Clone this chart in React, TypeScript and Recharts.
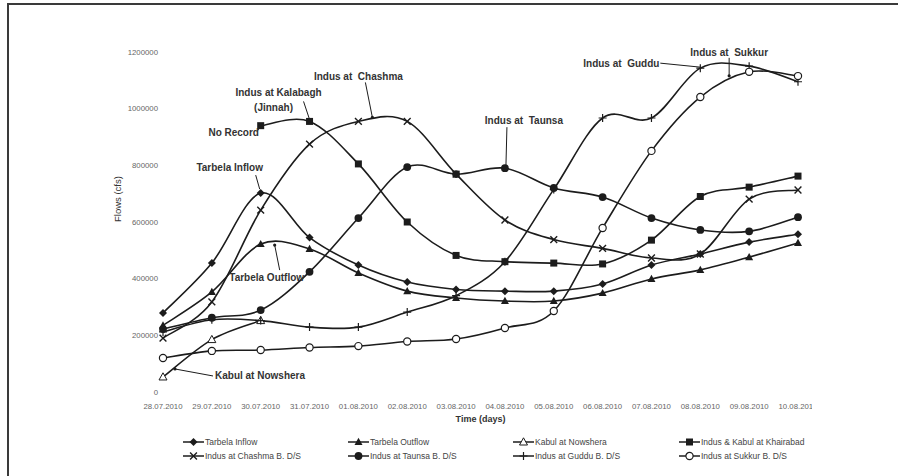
import React from 'react';
import { LineChart, Line, XAxis, YAxis, ReferenceDot } from 'recharts';

const INK = '#1c1c1c';
const TICK = '#666';
const FONT = '"Liberation Sans", Arial, sans-serif';

const days = [
  '28.07.2010', '29.07.2010', '30.07.2010', '31.07.2010', '01.08.2010', '02.08.2010', '03.08.2010',
  '04.08.2010', '05.08.2010', '06.08.2010', '07.08.2010', '08.08.2010', '09.08.2010', '10.08.2010',
];
const yTicks = [0, 200000, 400000, 600000, 800000, 1000000, 1200000];

// flows in cfs, one value per day
const tarbelaInflow = [279000, 455000, 702000, 545000, 448000, 388000, 362000, 356000, 356000, 381000, 448000, 487000, 529000, 557000];
const tarbelaOutflow = [235000, 353000, 522000, 505000, 420000, 356000, 332000, 321000, 321000, 349000, 399000, 431000, 476000, 526000];
const kabulNowshera = [53000, 185000, 252000, null, null, null, null, null, null, null, null, null, null, null];
const khairabad = [null, null, 940000, 955000, 805000, 600000, 482000, 460000, 455000, 452000, 536000, 690000, 723000, 762000];
const chashma = [190000, 318000, 642000, 875000, 955000, 955000, 769000, 607000, 538000, 507000, 473000, 487000, 681000, 713000];
const taunsa = [222000, 262000, 289000, 424000, 614000, 794000, 769000, 790000, 720000, 688000, 614000, 572000, 567000, 617000];
const guddu = [212000, 255000, 252000, 229000, 229000, 282000, 340000, 460000, 715000, 967000, 967000, 1143000, 1150000, 1095000];
const sukkur = [120000, 145000, 148000, 157000, 162000, 178000, 187000, 226000, 286000, 579000, 851000, 1041000, 1130000, 1115000];

type MarkerKind = 'diamond' | 'triangle' | 'openTriangle' | 'square' | 'cross' | 'circle' | 'plus' | 'openCircle';

const series: { key: string; name: string; values: (number | null)[]; marker: MarkerKind }[] = [
  { key: 'inflow', name: 'Tarbela Inflow', values: tarbelaInflow, marker: 'diamond' },
  { key: 'outflow', name: 'Tarbela Outflow', values: tarbelaOutflow, marker: 'triangle' },
  { key: 'kabul', name: 'Kabul at Nowshera', values: kabulNowshera, marker: 'openTriangle' },
  { key: 'khairabad', name: 'Indus & Kabul at Khairabad', values: khairabad, marker: 'square' },
  { key: 'chashma', name: 'Indus at Chashma B. D/S', values: chashma, marker: 'cross' },
  { key: 'taunsa', name: 'Indus at Taunsa B. D/S', values: taunsa, marker: 'circle' },
  { key: 'guddu', name: 'Indus at Guddu B. D/S', values: guddu, marker: 'plus' },
  { key: 'sukkur', name: 'Indus at Sukkur B. D/S', values: sukkur, marker: 'openCircle' },
];

const rows = days.map((day, i) => {
  const row: Record<string, string | number | null> = { day };
  series.forEach((s) => (row[s.key] = s.values[i]));
  return row;
});

// smooth line through the points (Catmull-Rom), like the spreadsheet "smoothed line"
function smoothCurve(context: any) {
  let pts: [number, number][] = [];
  return {
    areaStart() {},
    areaEnd() {},
    lineStart() {
      pts = [];
    },
    point(x: number, y: number) {
      pts.push([+x, +y]);
    },
    lineEnd() {
      if (!pts.length) return;
      context.moveTo(pts[0][0], pts[0][1]);
      for (let i = 0; i < pts.length - 1; i++) {
        const p0 = pts[i - 1] || pts[i];
        const p1 = pts[i];
        const p2 = pts[i + 1];
        const p3 = pts[i + 2] || p2;
        context.bezierCurveTo(
          p1[0] + (p2[0] - p0[0]) / 6,
          p1[1] + (p2[1] - p0[1]) / 6,
          p2[0] - (p3[0] - p1[0]) / 6,
          p2[1] - (p3[1] - p1[1]) / 6,
          p2[0],
          p2[1],
        );
      }
    },
  };
}

function Marker({ kind, cx, cy }: { kind: MarkerKind; cx: number; cy: number }) {
  switch (kind) {
    case 'diamond':
      return <path d={`M${cx},${cy - 4}L${cx + 4},${cy}L${cx},${cy + 4}L${cx - 4},${cy}Z`} fill={INK} />;
    case 'triangle':
      return <path d={`M${cx},${cy - 4.2}L${cx + 4},${cy + 3}L${cx - 4},${cy + 3}Z`} fill={INK} />;
    case 'openTriangle':
      return <path d={`M${cx},${cy - 4.2}L${cx + 4},${cy + 3}L${cx - 4},${cy + 3}Z`} fill="#fff" stroke={INK} strokeWidth={1} />;
    case 'square':
      return <rect x={cx - 3.5} y={cy - 3.5} width={7} height={7} fill={INK} />;
    case 'cross':
      return (
        <path d={`M${cx - 3.4},${cy - 3.4}L${cx + 3.4},${cy + 3.4}M${cx - 3.4},${cy + 3.4}L${cx + 3.4},${cy - 3.4}`} stroke={INK} strokeWidth={1.4} />
      );
    case 'circle':
      return <circle cx={cx} cy={cy} r={3.9} fill={INK} />;
    case 'plus':
      return <path d={`M${cx - 4},${cy}L${cx + 4},${cy}M${cx},${cy - 4}L${cx},${cy + 4}`} stroke={INK} strokeWidth={1.2} />;
    case 'openCircle':
      return <circle cx={cx} cy={cy} r={3.6} fill="#fff" stroke={INK} strokeWidth={1.2} />;
  }
  return null;
}

// annotation text + leader line, offsets in px from the anchoring point
const callouts = [
  { values: tarbelaInflow, at: 2, lines: ['Tarbela Inflow'], text: [-31, -26], from: [-5, -18], to: [-1, -4], tip: false },
  { values: khairabad, at: 2, lines: ['No Record'], text: [-27, 7], from: [-3, 5], to: [0, 0], tip: false },
  { values: khairabad, at: 3, lines: ['Indus at Kalabagh', '(Jinnah)'], text: [-31, -29], from: [-6, -20], to: [0, -2], tip: false },
  { values: chashma, at: 4, lines: ['Indus at  Chashma'], text: [0, -45], from: [7, -39], to: [14, -4], tip: true },
  { values: taunsa, at: 7, lines: ['Indus at  Taunsa'], text: [19, -48], from: [2, -41], to: [1, -2], tip: false },
  { values: guddu, at: 11, lines: ['Indus at  Guddu'], text: [-79, -5], from: [-40, -5], to: [0, -1], tip: false },
  { values: sukkur, at: 12, lines: ['Indus at  Sukkur'], text: [-20, -19], from: [-20, -14], to: [-20, 4], tip: true },
  { values: tarbelaOutflow, at: 2, lines: ['Tarbela Outflow'], text: [6, 33], from: [19, 26], to: [14, 1], tip: true },
  { values: kabulNowshera, at: 0, lines: ['Kabul at Nowshera'], text: [97, -1], from: [50, -1], to: [12, -8], tip: true },
];

function Callout({ cx, cy, c }: { cx: number; cy: number; c: (typeof callouts)[number] }) {
  return (
    <g>
      <line
        x1={cx + c.from[0]}
        y1={cy + c.from[1]}
        x2={cx + c.to[0]}
        y2={cy + c.to[1]}
        stroke={INK}
        strokeWidth={1}
      />
      {c.tip && <circle cx={cx + c.to[0]} cy={cy + c.to[1]} r={1.6} fill={INK} />}
      {c.lines.map((t, i) => (
        <text
          key={t}
          x={cx + c.text[0] + (i > 0 ? -5 : 0)}
          y={cy + c.text[1] + i * 15}
          textAnchor="middle"
          dominantBaseline="central"
          fontFamily={FONT}
          fontSize={10}
          fontWeight={700}
          fill="#333"
          style={{ whiteSpace: 'pre' }}
        >
          {t}
        </text>
      ))}
    </g>
  );
}

function LegendItem({ name, marker, x, y }: { name: string; marker: MarkerKind; x: number; y: number }) {
  return (
    <div style={{ position: 'absolute', left: x, top: y - 6, height: 12, display: 'flex', alignItems: 'center' }}>
      <svg width={21} height={10}>
        <line x1={0} y1={5} x2={21} y2={5} stroke={INK} strokeWidth={1.5} />
        <Marker kind={marker} cx={10.5} cy={5} />
      </svg>
      <span style={{ marginLeft: 1, fontFamily: FONT, fontSize: 8.5, color: '#444', whiteSpace: 'nowrap' }}>{name}</span>
    </div>
  );
}

const legendCols = [183, 348, 513, 679];
const legendRows = [442, 456];

export default function App() {
  return (
    <div style={{ position: 'absolute', left: 0, top: 0, width: 898, height: 476, background: '#fff', overflow: 'hidden' }}>
      <div
        style={{
          position: 'absolute',
          left: 7,
          top: 3,
          width: 920,
          height: 500,
          borderTop: '2px solid #3a3a3a',
          borderLeft: '2px solid #3a3a3a',
        }}
      />
      <div style={{ position: 'absolute', left: 0, top: 0 }}>
        <LineChart width={812} height={430} data={rows} margin={{ top: 52, right: 14, bottom: 18, left: 103 }}>
          <XAxis
            dataKey="day"
            interval={0}
            height={20}
            axisLine={false}
            tickLine={false}
            tickSize={6}
            tickMargin={5}
            tick={{ fontSize: 7.8, fill: TICK, fontFamily: FONT }}
            label={{ value: 'Time (days)', position: 'bottom', offset: 4, fontSize: 9, fontWeight: 700, fill: '#333', fontFamily: FONT }}
          />
          <YAxis
            width={60}
            domain={[0, 1200000]}
            ticks={yTicks}
            interval={0}
            axisLine={false}
            tickLine={false}
            tickSize={0}
            tickMargin={5}
            tick={{ fontSize: 7.8, fill: TICK, fontFamily: FONT }}
            label={{ value: 'Flows (cfs)', angle: -90, position: 'insideLeft', offset: 15, fontSize: 9.5, fill: '#333', fontFamily: FONT }}
          />
          {series.map((s) => (
            <Line
              key={s.key}
              dataKey={s.key}
              name={s.name}
              type={smoothCurve as any}
              stroke={INK}
              strokeWidth={1.6}
              isAnimationActive={false}
              activeDot={false}
              dot={(p: any) =>
                p.value == null || p.cy == null ? (
                  <g key={`${s.key}-${p.index}`} />
                ) : (
                  <Marker key={`${s.key}-${p.index}`} kind={s.marker} cx={p.cx} cy={p.cy} />
                )
              }
            />
          ))}
          {callouts.map((c, i) => (
            <ReferenceDot
              key={i}
              x={days[c.at]}
              y={c.values[c.at] as number}
              r={0}
              ifOverflow="visible"
              shape={(p: any) => <Callout cx={p.cx} cy={p.cy} c={c} />}
            />
          ))}
        </LineChart>
      </div>
      {series.map((s, i) => (
        <LegendItem key={s.key} name={s.name} marker={s.marker} x={legendCols[i % 4]} y={legendRows[Math.floor(i / 4)]} />
      ))}
    </div>
  );
}
